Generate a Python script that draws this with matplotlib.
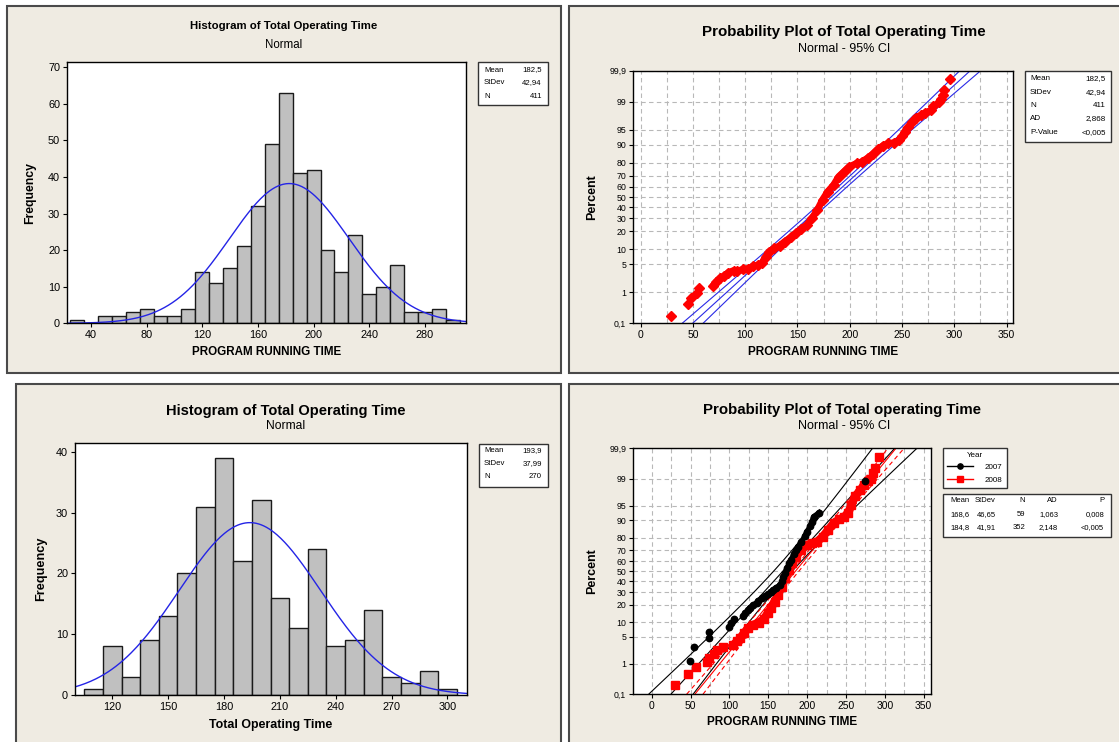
import matplotlib
matplotlib.use('Agg')
import matplotlib.pyplot as plt
from matplotlib.patches import Rectangle
from matplotlib.lines import Line2D
from matplotlib.ticker import MultipleLocator
import numpy as np
from statistics import NormalDist

plt.rcParams['font.family'] = ['Liberation Sans', 'DejaVu Sans']

# ---------------- data ----------------
# histogram 1 (all programs)
hist1_bins = [30, 40, 50, 60, 70, 80, 90, 100, 110, 120, 130, 140, 150, 160, 170,
              180, 190, 200, 210, 220, 230, 240, 250, 260, 270, 280, 290, 300]
hist1_counts = [1, 0, 2, 2, 3, 4, 2, 2, 4, 14, 11, 15, 21, 32, 49,
                63, 41, 42, 20, 14, 24, 8, 10, 16, 3, 3, 4, 1]
hist1_mean, hist1_sd, hist1_n = 182.5, 42.94, 411

# histogram 2
hist2_bins = [110, 120, 130, 140, 150, 160, 170, 180, 190, 200,
              210, 220, 230, 240, 250, 260, 270, 280, 290, 300]
hist2_counts = [1, 8, 3, 9, 13, 20, 31, 39, 22, 32,
                16, 11, 24, 8, 9, 14, 3, 2, 4, 1]
hist2_mean, hist2_sd, hist2_n = 193.9, 37.99, 270

# probability plot 1
prob_x = [29, 45.5, 48, 54, 56,
          69, 72.5, 76, 80, 84, 89, 92,
          98, 102.5, 107.5, 112.5, 116, 119.5, 123, 128, 133, 138,
          143.5, 148.5, 153.5, 159, 164, 169, 174, 179, 184.5, 189.5,
          194.5, 199.5, 206.5, 211.5, 217, 222, 227, 232, 237, 242.5,
          247.5, 250, 252.5, 256, 259.5, 263,
          268, 271.5, 278, 280, 285, 287, 289, 290, 296]
prob_pct = [0.18, 0.44, 0.69, 0.94, 1.29,
            1.46, 1.92, 2.33, 2.68, 3.22, 3.59, 3.44,
            3.84, 4.0, 4.46, 4.85, 5.26, 7.2, 9.0, 10.4, 11.7, 13.8,
            16.1, 18.7, 21.5, 24.8, 30.2, 37.4, 47.2, 55.2, 61.4, 69.1,
            73.2, 77.0, 79.4, 80.5, 82.9, 85.3, 87.9, 89.6, 90.5, 90.8,
            91.8, 93.1, 94.5, 95.7, 96.7, 97.4,
            97.7, 98.0, 98.3, 98.7, 99.0, 99.2, 99.36, 99.57, 99.81]
prob_mean, prob_sd, prob_n = 182.5, 42.94, 411

# probability plot 2, by year
x07 = [48.5, 54.5, 73, 74, 99.5, 102, 106, 118, 120, 124, 126, 130, 135, 137,
       142, 146, 150, 153, 156, 160, 165, 168, 169.5, 171, 174, 177, 179, 183,
       185.5, 188, 192.5, 197, 199.5, 204, 206, 208.5, 215.5, 275]
pct07 = [1.2, 2.9, 4.6, 6.3, 7.9, 9.6, 11.3, 13.0, 14.7, 16.4, 18.0, 19.7, 21.4, 23.1,
         24.8, 26.4, 28.1, 30.0, 32.0, 34.0, 36.5, 40.0, 44.0, 48.0, 53.0, 58.0, 61.0, 67.0,
         70.0, 73.0, 77.0, 81.0, 84.0, 87.0, 89.4, 91.5, 93.0, 98.8]
x08 = [30, 46.5, 57.5, 70.5, 73, 80, 84, 91, 105, 109.5,
       114, 119, 123.5, 130.5, 137.5, 144, 149, 153.5, 158, 162.5,
       167, 172, 176.5, 181, 185.5, 192.5, 199.5, 206.5, 213, 220,
       227, 234, 241, 248, 252.5, 257, 261.5, 268.5, 273, 278.5,
       282.5, 284.5, 287, 293]
pct08 = [0.21, 0.48, 0.8, 1.1, 1.43, 1.9, 2.4, 2.9, 3.2, 3.9,
         4.6, 6.0, 7.6, 8.9, 9.9, 11.4, 14.5, 17.6, 22.4, 27.7,
         34.9, 43.0, 51.3, 58.0, 64.4, 70.5, 74.6, 75.9, 77.2, 80.8,
         85.0, 88.6, 90.4, 91.3, 92.7, 95.2, 97.0, 97.9, 98.5, 98.8,
         99.0, 99.3, 99.52, 99.8]
year_labels = ['2007', '2008']
year_mean = [168.6, 184.8]
year_sd = [46.65, 41.91]
year_n = [59, 352]

pct_ticks = [0.1, 1, 5, 10, 20, 30, 40, 50, 60, 70, 80, 90, 95, 99, 99.9]
pct_labels = ['0,1', '1', '5', '10', '20', '30', '40', '50', '60', '70', '80', '90', '95', '99', '99,9']

stats1 = [('Mean', '182,5'), ('StDev', '42,94'), ('N', '411')]
stats2 = [('Mean', '182,5'), ('StDev', '42,94'), ('N', '411'), ('AD', '2,868'), ('P-Value', '<0,005')]
stats3 = [('Mean', '193,9'), ('StDev', '37,99'), ('N', '270')]
table_head = ['Mean', 'StDev', 'N', 'AD', 'P']
table_rows = [['168,6', '46,65', '59', '1,063', '0,008'],
              ['184,8', '41,91', '352', '2,148', '<0,005']]

# ---------------- helpers ----------------
W, H = 1119, 742
BG = '#EFEBE2'
fig = plt.figure(figsize=(W / 100, H / 100), dpi=100, facecolor='white')
nd = NormalDist()


def fx(x):
    return x / W


def fy(y):
    return 1 - y / H


def box(x0, y0, x1, y1, face, edge='#4a4a4a', lw=1.5, z=-5):
    fig.patches.append(Rectangle((fx(x0), fy(y1)), (x1 - x0) / W, (y1 - y0) / H,
                                 transform=fig.transFigure, facecolor=face,
                                 edgecolor=edge, linewidth=lw, zorder=z))


def add_ax(x0, y0, x1, y1):
    ax = fig.add_axes([fx(x0), fy(y1), (x1 - x0) / W, (y1 - y0) / H])
    ax.set_zorder(1)
    return ax


def txt(x, y, s, **kw):
    kw.setdefault('ha', 'center')
    kw.setdefault('va', 'center')
    kw.setdefault('zorder', 5)
    fig.text(fx(x), fy(y), s, **kw)


def stat_box(x0, y0, x1, y1, rows, ys, lx, rx, fs=5.6):
    box(x0, y0, x1, y1, 'white', edge='#333333', lw=1.0, z=2)
    for (k, v), y in zip(rows, ys):
        txt(lx, y, k, ha='left', fontsize=fs)
        txt(rx, y, v, ha='right', fontsize=fs)


def style_axes(ax, tick_fs):
    for s in ax.spines.values():
        s.set_linewidth(1.0)
        s.set_color('black')
    ax.tick_params(direction='out', length=3, width=0.8, pad=2, labelsize=tick_fs)


def z(p):
    return nd.inv_cdf(p / 100.0)


def prob_axes(ax):
    ax.set_ylim(z(0.1), z(99.9))
    ax.set_yticks([z(p) for p in pct_ticks])
    ax.set_yticklabels(pct_labels, fontsize=6.3)
    ax.set_xticks([0, 50, 100, 150, 200, 250, 300, 350])
    ax.xaxis.set_minor_locator(MultipleLocator(25))
    ax.tick_params(which='minor', length=0)
    ax.grid(True, which='both', axis='x', ls=(0, (4, 3)), color='#b8b8b8', lw=0.8)
    ax.grid(True, which='major', axis='y', ls=(0, (4, 3)), color='#b8b8b8', lw=0.8)
    ax.set_axisbelow(True)


def fit_lines(ax, mean, sd, n, color, ci_style, fit_style='-'):
    zz = np.linspace(z(0.1), z(99.9), 200)
    fit = mean + zz * sd
    half = 1.96 * sd * np.sqrt(1.0 / n + zz ** 2 / (2.0 * n))
    ax.plot(fit, zz, color=color, lw=0.8, ls=fit_style, zorder=2)
    ax.plot(fit - half, zz, color=color, lw=0.8, ls=ci_style, zorder=2)
    ax.plot(fit + half, zz, color=color, lw=0.8, ls=ci_style, zorder=2)


# ---------------- panel backgrounds ----------------
box(7, 6, 561, 373, BG)
box(569, 6, 1125, 373, BG)
box(16, 384, 561, 748, BG)
box(569, 384, 1125, 748, BG)

# ---------------- panel 1: histogram ----------------
ax1 = add_ax(67, 62, 466, 323.3)
ax1.bar(hist1_bins, hist1_counts, width=10, color='#C0C0C0', edgecolor='#1a1a1a', linewidth=1.0)
xs = np.linspace(22.8, 309.5, 300)
ax1.plot(xs, [hist1_n * 10 * NormalDist(hist1_mean, hist1_sd).pdf(v) for v in xs],
         color='#2424e6', lw=1.0)
ax1.set_xlim(22.8, 309.5)
ax1.set_ylim(0, 71.4)
ax1.set_xticks([40, 80, 120, 160, 200, 240, 280])
ax1.set_yticks([0, 10, 20, 30, 40, 50, 60, 70])
style_axes(ax1, 7.8)
txt(283.5, 26, 'Histogram of Total Operating Time', fontsize=8.2, fontweight='bold')
txt(283.5, 45, 'Normal', fontsize=8.3)
txt(30, 193, 'Frequency', fontsize=8.8, fontweight='bold', rotation=90)
txt(266.5, 352, 'PROGRAM RUNNING TIME', fontsize=8.4, fontweight='bold')
stat_box(478, 62, 548, 105, stats1, [70, 83, 96], 484, 542)

# ---------------- panel 2: probability plot ----------------
ax2 = add_ax(633.2, 70.7, 1012.9, 323.3)
prob_axes(ax2)
fit_lines(ax2, prob_mean, prob_sd, prob_n, '#2a2ae6', '-')
pz = [z(p) for p in prob_pct]
ax2.plot(prob_x[5:51], pz[5:51], color='#ff0000', lw=5.0, solid_capstyle='round', zorder=3)
ax2.plot(prob_x, pz, ls='none', marker='D', ms=5.0, color='#ff0000', mec='#ff0000', zorder=4)
ax2.set_xlim(-7, 356)
style_axes(ax2, 7.4)
ax2.tick_params(axis='y', labelsize=6.3)
txt(844, 31.7, 'Probability Plot of Total Operating Time', fontsize=10.9, fontweight='bold')
txt(844, 49, 'Normal - 95% CI', fontsize=9)
txt(592, 197, 'Percent', fontsize=9, fontweight='bold', rotation=90)
txt(823, 351.7, 'PROGRAM RUNNING TIME', fontsize=8.5, fontweight='bold')
stat_box(1025, 70.7, 1111, 141.7, stats2, [79, 92.3, 105.7, 119, 132.3], 1030, 1106, fs=5.8)

# ---------------- panel 3: histogram ----------------
ax3 = add_ax(75, 442.7, 467, 695)
ax3.bar(hist2_bins, hist2_counts, width=10, color='#C0C0C0', edgecolor='#1a1a1a', linewidth=1.0)
xs = np.linspace(100, 310.5, 300)
ax3.plot(xs, [hist2_n * 10 * NormalDist(hist2_mean, hist2_sd).pdf(v) for v in xs],
         color='#2424e6', lw=1.0)
ax3.set_xlim(100, 310.5)
ax3.set_ylim(0, 41.5)
ax3.set_xticks([120, 150, 180, 210, 240, 270, 300])
ax3.set_yticks([0, 10, 20, 30, 40])
style_axes(ax3, 7.8)
txt(286, 410.7, 'Histogram of Total Operating Time', fontsize=10.5, fontweight='bold')
txt(286, 426, 'Normal', fontsize=8.7)
txt(41, 568.8, 'Frequency', fontsize=9.2, fontweight='bold', rotation=90)
txt(271, 725, 'Total Operating Time', fontsize=8.9, fontweight='bold')
stat_box(478.6, 444, 547.5, 487.3, stats3, [451, 463.6, 476.3], 484, 542)

# ---------------- panel 4: probability plot by year ----------------
ax4 = add_ax(633.2, 448.3, 931.4, 694.3)
prob_axes(ax4)
fit_lines(ax4, year_mean[0], year_sd[0], year_n[0], 'black', '-')
fit_lines(ax4, year_mean[1], year_sd[1], year_n[1], '#ff0000', (0, (4, 3)))
z07 = [z(p) for p in pct07]
z08 = [z(p) for p in pct08]
ax4.plot(x08[8:41], z08[8:41], color='#ff0000', lw=6.0, zorder=3)
ax4.plot(x08, z08, ls='none', marker='s', ms=5.2, color='#ff0000', zorder=4)
ax4.plot(x07[7:37], z07[7:37], color='black', lw=3.8, zorder=5)
ax4.plot(x07, z07, ls='none', marker='o', ms=4.6, color='black', zorder=6)
ax4.set_xlim(-24, 360)
style_axes(ax4, 7.4)
ax4.tick_params(axis='y', labelsize=6.3)
txt(842, 410, 'Probability Plot of Total operating Time', fontsize=10.8, fontweight='bold')
txt(844.6, 426, 'Normal - 95% CI', fontsize=9)
txt(592, 571.3, 'Percent', fontsize=9, fontweight='bold', rotation=90)
txt(782, 722, 'PROGRAM RUNNING TIME', fontsize=8.5, fontweight='bold')

# legend box
handles = [Line2D([], [], color='black', lw=1.0, marker='o', ms=3.8),
           Line2D([], [], color='#ff0000', lw=1.0, marker='s', ms=3.8)]
leg = ax4.legend(handles, year_labels, title='Year', loc='upper left',
                 bbox_to_anchor=(fx(943), fy(447.7)), bbox_transform=fig.transFigure,
                 fontsize=5.8, title_fontsize=5.8, frameon=True, fancybox=False,
                 edgecolor='#333333', framealpha=1, handlelength=3.2,
                 borderpad=0.5, labelspacing=0.6, handletextpad=1.5, borderaxespad=0)
leg.get_frame().set_linewidth(1.0)

# stats table
box(943, 494, 1111, 536.7, 'white', edge='#333333', lw=1.0, z=2)
col_x = [970, 996, 1025, 1058, 1104]
for j, h in enumerate(table_head):
    txt(col_x[j], 500.7, h, ha='right', fontsize=5.5)
for i, row in enumerate(table_rows):
    for j, v in enumerate(row):
        txt(col_x[j], 514.3 + i * 13.4, v, ha='right', fontsize=5.5)

fig.savefig('out.png', dpi=100, facecolor='white')
